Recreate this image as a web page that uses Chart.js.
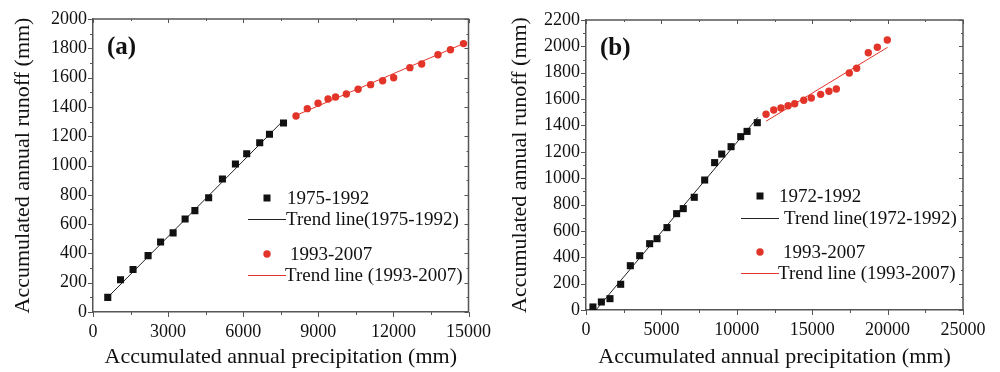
<!DOCTYPE html>
<html>
<head>
<meta charset="utf-8">
<script src="https://cdn.jsdelivr.net/npm/chart.js@4"></script>
<style>
    body { margin: 0; background: #fff; }
    #wrap { display: flex; width: 1000px; height: 372px; }
    canvas { display: block; }
</style>
</head>
<body>
<div id="wrap">
    <canvas id="chartA" width="500" height="372"></canvas>
    <canvas id="chartB" width="500" height="372"></canvas>
</div>
<script>
// ---- panel (a) data ----
const precipA1 = [590, 1100, 1600, 2200, 2700, 3200, 3680, 4070, 4620, 5170, 5690, 6140, 6660, 7050, 7610];
const runoffA1 = [100, 220, 290, 385, 478, 540, 635, 692, 780, 908, 1010, 1080, 1155, 1213, 1290];
const precipA2 = [8110, 8560, 8990, 9390, 9690, 10120, 10590, 11090, 11570, 12010, 12660, 13130, 13780, 14280, 14800];
const runoffA2 = [1338, 1388, 1425, 1454, 1468, 1488, 1520, 1552, 1579, 1599, 1668, 1693, 1756, 1790, 1832];
const trendA1x = [600, 7560];
const trendA1y = [102, 1300];
const trendA2x = [8110, 14800];
const trendA2y = [1342, 1832];
const labelsA = ['1975-1992', 'Trend line(1975-1992)', '1993-2007', 'Trend line (1993-2007)'];

// ---- panel (b) data ----
const precipB1 = [460, 1020, 1590, 2300, 2940, 3560, 4220, 4710, 5370, 6010, 6450, 7180, 7870, 8530, 9000, 9620, 10260, 10680, 11360];
const runoffB1 = [23, 61, 86, 195, 336, 412, 503, 541, 625, 731, 769, 855, 986, 1118, 1183, 1239, 1315, 1355, 1421];
const precipB2 = [11940, 12450, 12930, 13400, 13840, 14440, 14940, 15560, 16110, 16600, 17460, 17950, 18720, 19320, 19980];
const runoffB2 = [1485, 1517, 1532, 1550, 1565, 1591, 1608, 1636, 1659, 1677, 1798, 1834, 1952, 1993, 2048];
const trendB1x = [660, 11400];
const trendB1y = [0, 1462];
const trendB2x = [11940, 20000];
const trendB2y = [1432, 1993];
const labelsB = ['1972-1992', 'Trend line(1972-1992)', '1993-2007', 'Trend line (1993-2007)'];

const xTitle = 'Accumulated annual precipitation (mm)';
const yTitle = 'Accumulated annual runoff (mm)';

const SERIF = "'Liberation Serif', 'Times New Roman', serif";
const RED = '#e3342a';
const BLACK = '#111111';
const AXIS = '#555555';

Chart.defaults.font.family = SERIF;
Chart.defaults.color = '#111';

const pts = (xs, ys) => xs.map((v, i) => ({x: v, y: ys[i]}));

// box on top/right plus small major & minor tick marks on all sides
const frameTicks = {
    id: 'frameTicks',
    afterDraw(chart, args, opts) {
        const {ctx, chartArea: a, scales: {x, y}} = chart;
        ctx.save();
        ctx.strokeStyle = AXIS;
        ctx.lineWidth = 1.5;
        ctx.beginPath();
        ctx.moveTo(a.left, a.top);
        ctx.lineTo(a.right, a.top);
        ctx.lineTo(a.right, a.bottom);
        ctx.stroke();

        ctx.lineWidth = 1;
        ctx.beginPath();
        const xs = opts.xStep / 2;
        for (let i = 0; x.min + i * xs <= x.max + 1; i++) {
            const px = Math.round(x.getPixelForValue(x.min + i * xs)) + 0.5;
            const len = i % 2 === 0 ? 5 : 3;
            ctx.moveTo(px, a.bottom);
            ctx.lineTo(px, a.bottom + len);
            ctx.moveTo(px, a.top);
            ctx.lineTo(px, a.top + len - 1);
        }
        const ys = opts.yStep / 2;
        for (let i = 0; y.min + i * ys <= y.max + 1; i++) {
            const py = Math.round(y.getPixelForValue(y.min + i * ys)) + 0.5;
            const len = i % 2 === 0 ? 5 : 3;
            ctx.moveTo(a.left, py);
            ctx.lineTo(a.left - len, py);
            ctx.moveTo(a.right, py);
            ctx.lineTo(a.right - len + 1, py);
        }
        ctx.stroke();
        ctx.restore();
    }
};

// panel tag and hand-placed legend inside the plot area
const panelLegend = {
    id: 'panelLegend',
    afterDraw(chart, args, opts) {
        const {ctx, chartArea: a} = chart;
        ctx.save();
        ctx.font = 'bold 25px ' + SERIF;
        ctx.fillStyle = '#111';
        ctx.textBaseline = 'middle';
        ctx.fillText(opts.tag, a.left + opts.tagX, a.top + opts.tagY);

        ctx.font = '19px ' + SERIF;
        opts.items.forEach(it => {
            const mx = a.left + it.mx, my = a.top + it.my;
            ctx.fillStyle = it.color;
            ctx.strokeStyle = it.color;
            if (it.kind === 'rect') {
                ctx.fillRect(mx - 3.5, my - 3.5, 7, 7);
            } else if (it.kind === 'circle') {
                ctx.beginPath();
                ctx.arc(mx, my, 3.7, 0, Math.PI * 2);
                ctx.fill();
            } else {
                ctx.lineWidth = 1;
                ctx.beginPath();
                ctx.moveTo(mx, my + 0.5);
                ctx.lineTo(mx + it.len, my + 0.5);
                ctx.stroke();
            }
            ctx.fillStyle = '#111';
            ctx.fillText(it.text, a.left + it.tx, my + 1);
        });
        ctx.restore();
    }
};

function makeChart(id, d) {
    return new Chart(document.getElementById(id), {
        type: 'scatter',
        data: {
            datasets: [
                {
                    data: pts(d.x1, d.y1),
                    pointStyle: 'rect',
                    pointRadius: 5,
                    pointHoverRadius: 5,
                    backgroundColor: BLACK,
                    borderColor: BLACK,
                    borderWidth: 0
                },
                {
                    type: 'line',
                    data: pts(d.t1x, d.t1y),
                    borderColor: '#222',
                    borderWidth: 1,
                    pointRadius: 0,
                    fill: false
                },
                {
                    data: pts(d.x2, d.y2),
                    pointStyle: 'circle',
                    pointRadius: 3.7,
                    pointHoverRadius: 3.7,
                    backgroundColor: RED,
                    borderColor: RED,
                    borderWidth: 0
                },
                {
                    type: 'line',
                    data: pts(d.t2x, d.t2y),
                    borderColor: RED,
                    borderWidth: 1,
                    pointRadius: 0,
                    fill: false
                }
            ]
        },
        options: {
            responsive: false,
            animation: false,
            layout: {padding: d.pad},
            scales: {
                x: {
                    type: 'linear',
                    min: 0,
                    max: d.xMax,
                    afterFit: s => { s.height = d.xAxisH; },
                    ticks: {
                        stepSize: d.xStep,
                        padding: 9,
                        color: '#111',
                        font: {size: 18},
                        callback: v => String(v)    // no thousands separator
                    },
                    grid: {display: false, drawTicks: false},
                    border: {display: true, color: AXIS, width: 1.5},
                    title: {
                        display: true,
                        text: xTitle,
                        color: '#111',
                        font: {size: 22, lineHeight: 1.2},
                        padding: {top: 0, bottom: 2}
                    }
                },
                y: {
                    type: 'linear',
                    min: 0,
                    max: d.yMax,
                    afterFit: s => { s.width = d.yAxisW; },
                    ticks: {
                        stepSize: 200,
                        padding: 6,
                        color: '#111',
                        font: {size: 18},
                        callback: v => String(v)
                    },
                    grid: {display: false, drawTicks: false},
                    border: {display: true, color: AXIS, width: 1.5},
                    title: {
                        display: true,
                        text: yTitle,
                        color: '#111',
                        font: {size: 22, lineHeight: 1.2},
                        padding: {top: d.yTitlePad, bottom: 0}
                    }
                }
            },
            plugins: {
                legend: {display: false},
                tooltip: {enabled: false},
                frameTicks: {xStep: d.xStep, yStep: 200},
                panelLegend: {
                    tag: d.tag,
                    tagX: 14,
                    tagY: 29,
                    items: [
                        {kind: 'rect', color: BLACK, mx: d.lg.m, my: d.lg.y[0], tx: d.lg.t[0], text: d.labels[0]},
                        {kind: 'line', color: '#222', mx: d.lg.l, len: 38, my: d.lg.y[1], tx: d.lg.t[1], text: d.labels[1]},
                        {kind: 'circle', color: RED, mx: d.lg.m, my: d.lg.y[2], tx: d.lg.t[2], text: d.labels[2]},
                        {kind: 'line', color: RED, mx: d.lg.l, len: 38, my: d.lg.y[3], tx: d.lg.t[3], text: d.labels[3]}
                    ]
                }
            }
        },
        plugins: [frameTicks, panelLegend]
    });
}

makeChart('chartA', {
    x1: precipA1, y1: runoffA1, x2: precipA2, y2: runoffA2,
    t1x: trendA1x, t1y: trendA1y, t2x: trendA2x, t2y: trendA2y,
    labels: labelsA, tag: '(a)',
    xMax: 15000, yMax: 2000, xStep: 3000,
    pad: {top: 19, right: 31, left: 0, bottom: 0},
    xAxisH: 60, yAxisW: 93, yTitlePad: 10,
    lg: {m: 174, l: 155, y: [179, 200, 235, 256], t: [194, 193, 197, 192]}
});

makeChart('chartB', {
    x1: precipB1, y1: runoffB1, x2: precipB2, y2: runoffB2,
    t1x: trendB1x, t1y: trendB1y, t2x: trendB2x, t2y: trendB2y,
    labels: labelsB, tag: '(b)',
    xMax: 25000, yMax: 2200, xStep: 5000,
    pad: {top: 20, right: 37, left: 0, bottom: 0},
    xAxisH: 62, yAxisW: 86, yTitlePad: 7,
    lg: {m: 174, l: 155, y: [176, 198, 232, 253], t: [193, 198, 197, 192]}
});
</script>
</body>
</html>
